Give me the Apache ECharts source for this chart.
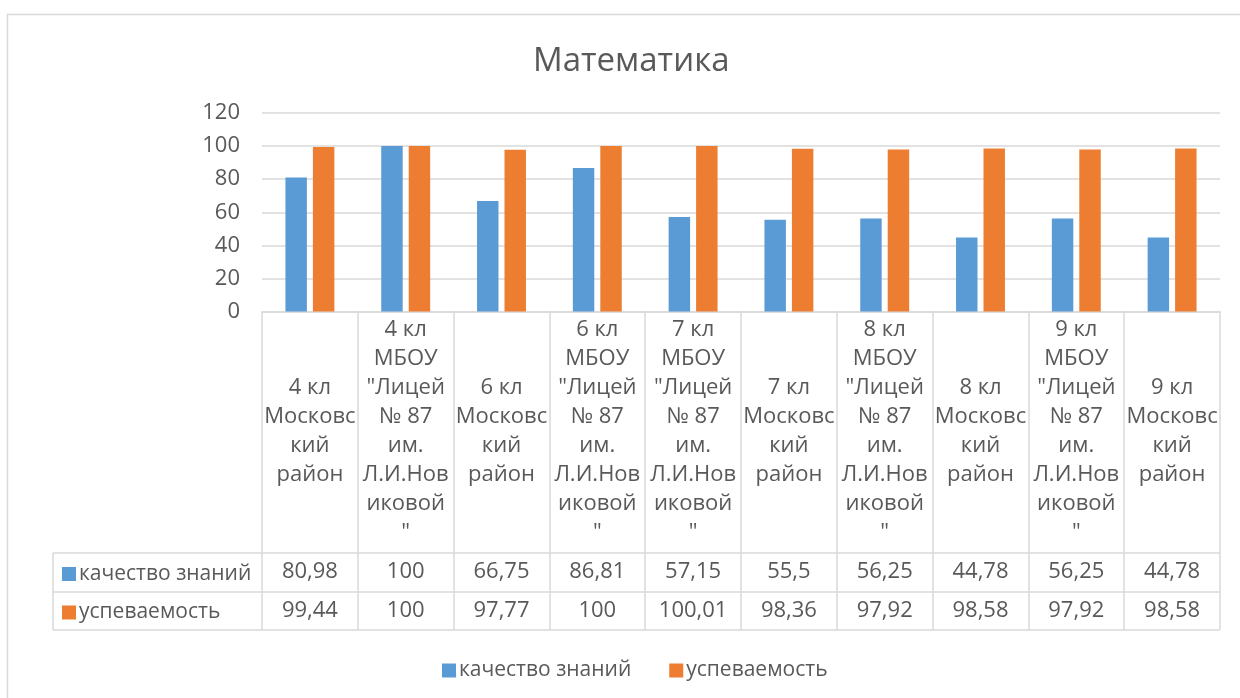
<!DOCTYPE html>
<html>
<head>
<meta charset="utf-8">
<title>Математика</title>
<script src="https://cdn.jsdelivr.net/npm/echarts@6/dist/echarts.min.js"></script>
<style>
  html, body { margin: 0; padding: 0; background: #fff; }
  #chart { width: 1240px; height: 698px; }
</style>
</head>
<body>
<div id="chart"></div>
<script>
// подписи категорий (переносы как в исходной таблице)
var categories = [
    '4 кл\nМосковс\nкий\nрайон',
    '4 кл\nМБОУ\n"Лицей\n№ 87\nим.\nЛ.И.Нов\nиковой\n"',
    '6 кл\nМосковс\nкий\nрайон',
    '6 кл\nМБОУ\n"Лицей\n№ 87\nим.\nЛ.И.Нов\nиковой\n"',
    '7 кл\nМБОУ\n"Лицей\n№ 87\nим.\nЛ.И.Нов\nиковой\n"',
    '7 кл\nМосковс\nкий\nрайон',
    '8 кл\nМБОУ\n"Лицей\n№ 87\nим.\nЛ.И.Нов\nиковой\n"',
    '8 кл\nМосковс\nкий\nрайон',
    '9 кл\nМБОУ\n"Лицей\n№ 87\nим.\nЛ.И.Нов\nиковой\n"',
    '9 кл\nМосковс\nкий\nрайон'
];
var seriesNames = ['качество знаний', 'успеваемость'];
var quality = [80.98, 100, 66.75, 86.81, 57.15, 55.5, 56.25, 44.78, 56.25, 44.78];
var progress = [99.44, 100, 97.77, 100, 100.01, 98.36, 97.92, 98.58, 97.92, 98.58];
var yTicks = { min: 0, max: 120, interval: 20 };

var textColor = '#595959';
var lineColor = '#D9D9D9';
var font = 'Open Sans';

// число с запятой, как в таблице Excel
function fmt(v) {
    return String(v).replace('.', ',');
}

var chart = echarts.init(document.getElementById('chart'));

// строки таблицы данных под осью
function tableAxis(values, margin) {
    return {
        type: 'category',
        gridIndex: 0,
        position: 'bottom',
        data: values.map(fmt),
        axisLine: { show: false },
        axisTick: { show: false },
        axisLabel: {
            interval: 0,
            margin: margin,
            verticalAlign: 'middle',
            color: textColor,
            fontFamily: font,
            fontSize: 22
        }
    };
}

function hline(y) {
    return {
        type: 'line',
        shape: { x1: 53, y1: y, x2: 1220, y2: y },
        style: { stroke: lineColor, lineWidth: 1.5 },
        silent: true
    };
}

var option = {
    animation: false,
    backgroundColor: '#fff',
    color: ['#5B9BD5', '#ED7D31'],
    title: {
        text: 'Математика',
        left: 528,
        top: 40,
        textStyle: { color: textColor, fontFamily: font, fontSize: 33, fontWeight: 'normal' }
    },
    legend: [
        {
            data: seriesNames,
            left: 437,
            top: 655,
            itemWidth: 14,
            itemHeight: 14,
            itemGap: 38,
            icon: 'rect',
            textStyle: { color: textColor, fontFamily: font, fontSize: 21, padding: [0, 0, 0, -2] }
        },
        {
            data: seriesNames,
            orient: 'vertical',
            left: 57,
            top: 558,
            itemWidth: 14,
            itemHeight: 14,
            itemGap: 16.5,
            icon: 'rect',
            padding: 5,
            textStyle: { color: textColor, fontFamily: font, fontSize: 21, lineHeight: 22, padding: [0, 0, 0, -2] }
        }
    ],
    grid: {
        left: 262,
        right: 20,
        top: 113,
        height: 198.5,
        containLabel: false
    },
    xAxis: [
        {
            type: 'category',
            data: categories,
            axisLine: { lineStyle: { color: lineColor, width: 1.5 } },
            axisTick: { show: true, interval: 0, length: 318, lineStyle: { color: lineColor, width: 1.5 } },
            axisLabel: {
                interval: 0,
                margin: 120,
                verticalAlign: 'middle',
                lineHeight: 29,
                color: textColor,
                fontFamily: font,
                fontSize: 22
            }
        },
        tableAxis(quality, 260.5),
        tableAxis(progress, 299)
    ],
    yAxis: {
        type: 'value',
        min: yTicks.min,
        max: yTicks.max,
        interval: yTicks.interval,
        axisLine: { show: false },
        axisTick: { show: false },
        splitLine: { lineStyle: { color: lineColor, width: 1.5 } },
        axisLabel: { color: textColor, fontFamily: font, fontSize: 22, margin: 22 }
    },
    series: [
        {
            name: seriesNames[0],
            type: 'bar',
            data: quality,
            barWidth: '22.4%',
            barGap: '28%'
        },
        {
            name: seriesNames[1],
            type: 'bar',
            data: progress,
            barWidth: '22.4%',
            barGap: '28%'
        }
    ],
    graphic: [
        {
            type: 'rect',
            shape: { x: 7.5, y: 14.5, width: 1300, height: 800 },
            style: { fill: 'none', stroke: lineColor, lineWidth: 1.5 },
            silent: true,
            z: -1
        },
        hline(553),
        hline(592),
        hline(630),
        {
            type: 'line',
            shape: { x1: 53, y1: 553, x2: 53, y2: 630 },
            style: { stroke: lineColor, lineWidth: 1.5 },
            silent: true
        }
    ]
};

chart.setOption(option);
</script>
</body>
</html>
